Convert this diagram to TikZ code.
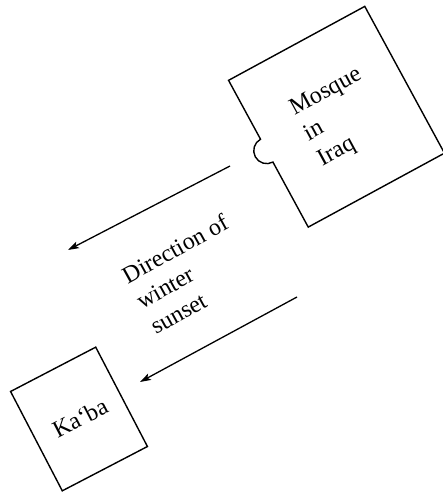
\documentclass[tikz,border=0pt]{standalone}
\usepackage{fontspec}
\setmainfont{Liberation Serif}
\usetikzlibrary{arrows.meta}
\begin{document}
\begin{tikzpicture}[x=1pt,y=1pt,
  outline/.style={line width=1.4pt, line join=miter},
  label/.style={font=\fontsize{24}{29}\selectfont, align=left, inner sep=0pt},
  sunarrow/.style={line width=1.3pt, -{Stealth[length=11pt,width=7pt,inset=2.5pt]}}]
\useasboundingbox (0,0) rectangle (443,495);
% Mosque in Iraq
\begin{scope}[shift={(336.5,378.25)}, rotate=28.5]
  \draw[outline] (-77.5,83.5) -- (-77.5,16.5) arc[start angle=90, end angle=270, radius=13]
     -- (-77.5,-83.5) -- (77.5,-83.5) -- (77.5,83.5) -- cycle;
\end{scope}
\node[label, rotate=28.5] (mosque) at (340,377) {Mosque\\in\\Iraq};
% Ka'ba
\node[outline, draw, rotate=27.5, minimum width=96pt, minimum height=112pt, inner sep=0pt] (kaba) at (79,76) {};
\node[label, rotate=27.5] (kabatext) at (80,77) {Ka‘ba};
% Direction text
\node[label, rotate=29] (dir) at (189,221) {Direction of\\winter\\sunset};
% arrows
\coordinate (a1s) at (230,329);
\coordinate (a1e) at (68,245);
\coordinate (a2s) at (297,198);
\coordinate (a2e) at (140,113);
\draw[sunarrow] (a1s) -- (a1e);
\draw[sunarrow] (a2s) -- (a2e);
\end{tikzpicture}
\end{document}
